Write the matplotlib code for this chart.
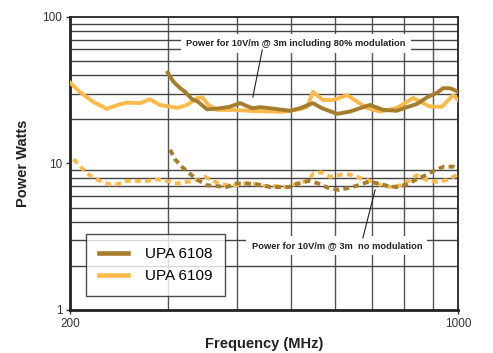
import matplotlib
matplotlib.use("Agg")
import matplotlib.pyplot as plt
from matplotlib.ticker import FixedLocator, NullFormatter, FixedFormatter

plt.rcParams['font.family'] = ['Liberation Sans', 'DejaVu Sans']

# UPA 6108 / 6109, power for 10V/m @ 3m incl. 80% modulation
f_6108_mod = [300, 307, 316, 322, 332, 340, 353, 373, 388, 405, 426, 440, 459, 498, 519,
              548, 569, 606, 639, 694, 733, 776, 809, 844, 880, 917, 940, 968, 1000]
p_6108_mod = [41.7, 36.2, 32.6, 30.9, 27.4, 26.4, 23.4, 23.8, 24.4, 25.8, 23.8, 24.2, 23.8, 22.9, 23.8,
              25.8, 23.8, 21.8, 22.6, 25.1, 23.2, 22.9, 24.2, 25.5, 28.3, 30.4, 32.6, 32.6, 30.9]

f_6109_mod = [200, 208, 220, 233, 244, 253, 267, 279, 290, 303, 313, 325, 339, 346, 355, 368,
              394, 427, 484, 520, 535, 548, 571, 596, 631, 658, 686, 724, 776, 830, 865, 891,
              936, 980, 1000]
p_6109_mod = [35.6, 30.9, 26.4, 23.6, 25.1, 26.0, 25.8, 27.4, 25.1, 24.4, 24.0, 25.1, 27.9, 28.3, 25.1, 23.2,
              23.2, 22.8, 22.5, 23.5, 24.4, 30.8, 27.1, 27.1, 29.3, 26.4, 23.9, 22.6, 23.9, 28.0, 25.8, 24.4,
              24.4, 29.3, 27.1]

# power for 10V/m @ 3m, no modulation
f_6108 = [303, 309, 318, 329, 338, 353, 368, 383, 399, 416, 434, 459, 495, 516, 538, 560,
          584, 609, 635, 662, 690, 719, 749, 776, 809, 843, 873, 903, 942, 981, 1000]
p_6108 = [12.4, 10.7, 9.5, 8.5, 7.8, 7.1, 7.0, 6.9, 7.3, 7.3, 7.2, 6.9, 6.9, 7.3, 7.6, 7.3,
          6.8, 6.6, 6.8, 7.1, 7.5, 7.3, 7.0, 6.9, 7.2, 7.8, 8.3, 8.9, 9.5, 9.5, 9.1]

f_6109 = [203, 210, 217, 225, 235, 243, 253, 265, 276, 287, 299, 312, 325, 338, 350, 368,
          383, 399, 416, 434, 452, 472, 495, 516, 538, 549, 568, 588, 618, 639, 671, 695,
          719, 755, 787, 820, 843, 879, 916, 955, 988, 1000]
p_6109 = [10.7, 9.3, 8.3, 7.7, 7.2, 7.2, 7.6, 7.6, 7.6, 7.8, 7.6, 7.3, 7.5, 7.7, 8.1, 7.4,
          7.1, 7.1, 7.3, 7.2, 7.0, 7.0, 6.9, 7.4, 7.6, 8.6, 8.7, 8.1, 8.4, 8.4, 7.9, 7.6,
          7.2, 6.9, 7.1, 7.7, 8.3, 7.7, 7.5, 7.7, 8.2, 8.6]

x_ticks = [200, 1000]
y_ticks = [1, 10, 100]
x_grid = [300, 400, 500, 600, 700, 800, 900]
y_grid = [m * d for d in (1, 10) for m in range(2, 10)]

c_6108 = '#a57d2c'
c_6109 = '#fdb94a'

fig = plt.figure(figsize=(4.93, 3.53), dpi=100)
ax = fig.add_axes([0.142, 0.122, 0.787, 0.830])
ax.set_xscale('log')
ax.set_yscale('log')
ax.set_xlim(200, 1000)
ax.set_ylim(1, 100)

for v in x_grid:
    ax.axvline(v, color='#555555', lw=1.0, zorder=1)
for v in y_grid:
    ax.axhline(v, color='#444444', lw=1.0, zorder=1)

lw = 2.8
ax.plot(f_6109_mod, p_6109_mod, color=c_6109, lw=lw, zorder=3, solid_joinstyle='round')
ax.plot(f_6108_mod, p_6108_mod, color=c_6108, lw=lw, zorder=4, solid_joinstyle='round')
ax.plot(f_6109, p_6109, color=c_6109, lw=lw, dashes=(1.5, 1.1), zorder=3)
ax.plot(f_6108, p_6108, color=c_6108, lw=lw, dashes=(1.5, 1.1), zorder=4)

# ticks
ax.xaxis.set_major_locator(FixedLocator(x_ticks))
ax.xaxis.set_major_formatter(FixedFormatter([str(v) for v in x_ticks]))
ax.xaxis.set_minor_locator(FixedLocator([]))
ax.xaxis.set_minor_formatter(NullFormatter())
ax.yaxis.set_major_locator(FixedLocator(y_ticks))
ax.yaxis.set_major_formatter(FixedFormatter([str(v) for v in y_ticks]))
ax.yaxis.set_minor_locator(FixedLocator([]))
ax.yaxis.set_minor_formatter(NullFormatter())
ax.tick_params(length=3, width=1, color='#333333', labelsize=8.5, labelcolor='#333333', pad=2.5)

for side in ('left', 'bottom'):
    ax.spines[side].set_linewidth(2.0)
    ax.spines[side].set_color('#222222')
for side in ('top', 'right'):
    ax.spines[side].set_linewidth(1.3)
    ax.spines[side].set_color('#222222')

ax.set_xlabel('Frequency (MHz)', fontsize=10.5, fontweight='bold', color='#222222', labelpad=5)
ax.set_ylabel('Power Watts', fontsize=10.5, fontweight='bold', color='#222222', labelpad=9)

# annotations with their pointer lines
box = dict(boxstyle='square,pad=0.55', fc='white', ec='none')
ax.text(511, 66, 'Power for 10V/m @ 3m including 80% modulation', fontsize=6.7,
        fontweight='bold', color='#222222', ha='center', va='center', bbox=box, zorder=6)
ax.plot([444, 427], [59.5, 28.4], color='#222222', lw=0.8, zorder=6)

ax.text(605, 2.75, 'Power for 10V/m @ 3m  no modulation', fontsize=6.7,
        fontweight='bold', color='#222222', ha='center', va='center', bbox=box, zorder=6)
ax.plot([709, 674], [6.6, 3.1], color='#222222', lw=0.8, zorder=6)

h1, = ax.plot([], [], color=c_6108, lw=3.3, label='UPA 6108')
h2, = ax.plot([], [], color=c_6109, lw=3.3, label='UPA 6109')
leg = ax.legend(handles=[h1, h2], loc='lower left', bbox_to_anchor=(0.041, 0.048),
                fontsize=11, frameon=True, fancybox=False, edgecolor='#222222',
                handlelength=1.9, handletextpad=1.1, borderpad=0.85, labelspacing=0.5,
                borderaxespad=0)
leg.get_frame().set_linewidth(1.0)
leg.set_zorder(7)

fig.savefig('out.png', dpi=100)
